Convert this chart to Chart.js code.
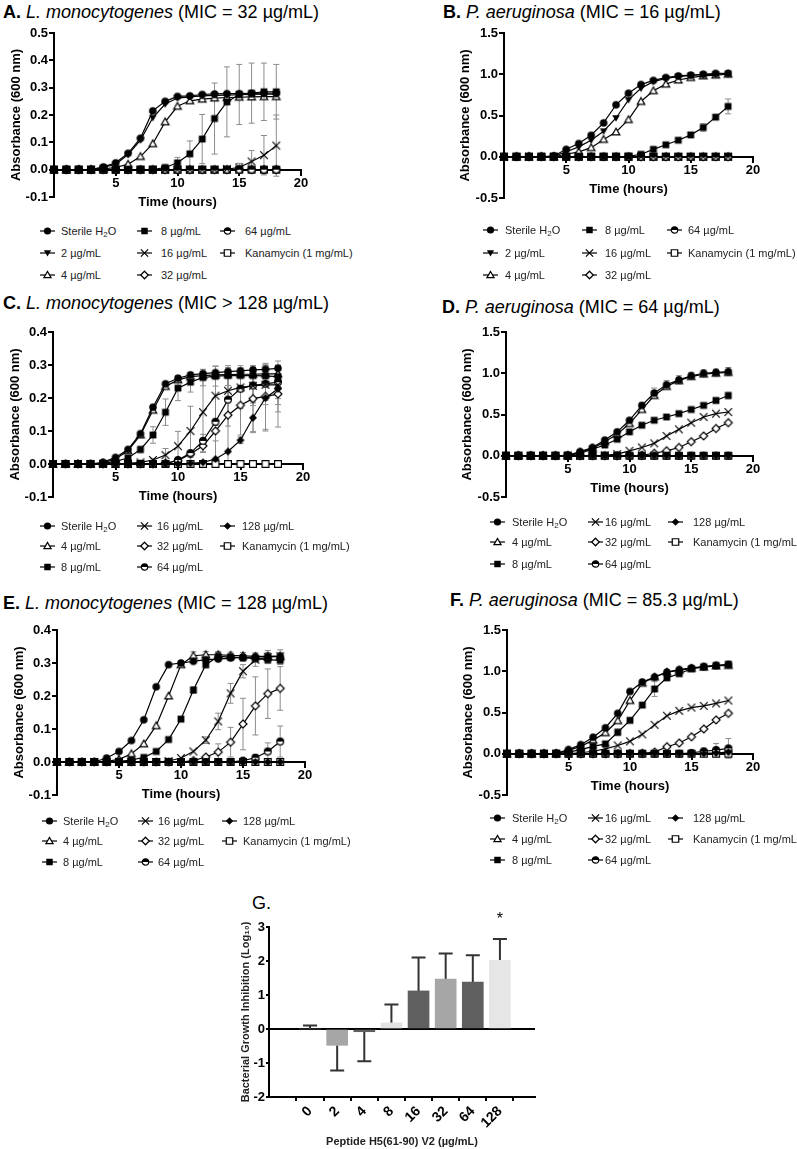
<!DOCTYPE html>
<html>
<head>
<meta charset="utf-8">
<script src="https://cdn.jsdelivr.net/npm/chart.js@4.4.0/dist/chart.umd.min.js"></script>
<style>
  body { margin: 0; background: #fff; }
  #page { position: relative; width: 797px; height: 1149px; overflow: hidden; font-family: 'Liberation Sans', Arial, sans-serif; color: #000; }
  .ttl { position: absolute; font-size: 18px; line-height: 20px; white-space: nowrap; }
  .lg-txt { position: absolute; font-size: 11px; line-height: 14px; white-space: nowrap; color: #222; }
  .lg-txt sub { font-size: 8px; line-height: 0; vertical-align: -2px; }
  canvas { position: absolute; }
</style>
</head>
<body>
<div id="page">
  <div class="ttl" style="left:3px;top:2px"><b>A.</b> <i>L. monocytogenes</i> (MIC = 32 µg/mL)</div>
  <div class="ttl" style="left:443px;top:2px"><b>B.</b> <i>P. aeruginosa</i> (MIC = 16 µg/mL)</div>
  <div class="ttl" style="left:3px;top:293px"><b>C.</b> <i>L. monocytogenes</i> (MIC &gt; 128 µg/mL)</div>
  <div class="ttl" style="left:442px;top:297px"><b>D.</b> <i>P. aeruginosa</i> (MIC = 64 µg/mL)</div>
  <div class="ttl" style="left:3px;top:593px"><b>E.</b> <i>L. monocytogenes</i> (MIC = 128 µg/mL)</div>
  <div class="ttl" style="left:450px;top:590px"><b>F.</b> <i>P. aeruginosa</i> (MIC = 85.3 µg/mL)</div>
  <div class="ttl" style="left:252px;top:893px">G.</div>
</div>
<script>
Chart.defaults.font.family = "'Liberation Sans', Arial, sans-serif";
Chart.defaults.color = '#000';

// ============================
// Data (time points in hours, absorbance at 600 nm)
// ============================
const hours = [0,1,2,3,4,5,6,7,8,9,10,11,12,13,14,15,16,17,18];

const labelsAB = ['Sterile H2O','2 µg/mL','4 µg/mL','8 µg/mL','16 µg/mL','32 µg/mL','64 µg/mL','Kanamycin (1 mg/mL)'];
const markersAB = ['circle','triDown','triOpen','square','cross','diamondOpen','half','squareOpen'];
const labelsCF = ['Sterile H2O','4 µg/mL','8 µg/mL','16 µg/mL','32 µg/mL','64 µg/mL','128 µg/mL','Kanamycin (1 mg/mL)'];
const markersCF = ['circle','triOpen','square','cross','diamondOpen','half','diamond','squareOpen'];

// A. L. monocytogenes (MIC = 32)
const A_h2o = [0,0,0,0,0.01,0.025,0.06,0.115,0.215,0.25,0.268,0.27,0.275,0.277,0.278,0.278,0.279,0.28,0.28];
const A_2   = [0,0,0,0,0.008,0.02,0.055,0.108,0.19,0.24,0.262,0.266,0.27,0.272,0.273,0.274,0.275,0.276,0.276];
const A_4   = [0,0,0,0,0.003,0.008,0.02,0.048,0.095,0.175,0.232,0.252,0.258,0.262,0.264,0.265,0.266,0.267,0.267];
const A_8   = [0,0,0,0,0,0,0,0,0,0.008,0.025,0.058,0.112,0.187,0.248,0.275,0.28,0.285,0.285];
const A_8err = [0,0,0,0,0,0,0,0,0,0.005,0.02,0.047,0.09,0.13,0.128,0.11,0.11,0.105,0.1];
const A_16  = [0,0,0,0,0,0,0,0,0,0,0,0,0,0,0.002,0.008,0.03,0.053,0.088];
const A_16err = [0,0,0,0,0,0,0,0,0,0,0,0,0,0,0,0.015,0.04,0.072,0.112];
const A_32  = [0,0,0,0,0,0,0,0,0,0,0,0,0,0,0,0,0,0,0];
const A_64  = [0,0,0,0,0,0,0,0,0,0,0,0,0,0,0,0,0,0,0];
const A_kan = [0,0,0,0,0,0,0,0,0,0,0,0,0,0,0,0,0,0,0];

// B. P. aeruginosa (MIC = 16)
const B_h2o = [0,0,0,0,0.01,0.09,0.16,0.26,0.41,0.63,0.77,0.875,0.925,0.96,0.98,0.99,1.0,1.01,1.01];
const B_2   = [0,0,0,0,0.005,0.06,0.12,0.2,0.31,0.47,0.69,0.83,0.91,0.95,0.97,0.985,0.995,1.0,1.01];
const B_4   = [0,0,0,0,0,0.03,0.06,0.11,0.21,0.3,0.45,0.67,0.8,0.88,0.93,0.96,0.98,0.99,1.0];
const B_8   = [0,0,0,0,0,0,0,0,0,0,0.005,0.03,0.09,0.145,0.2,0.265,0.355,0.48,0.61];
const B_8err = [0,0,0,0,0,0,0,0,0,0,0,0,0,0,0,0.03,0.045,0.02,0.09];
const B_16  = [0,0,0,0,0,0,0,0,0,0,0,0,0,0,0,0,0,0,0];
const B_32  = [0,0,0,0,0,0,0,0,0,0,0,0,0,0,0,0,0,0,0];
const B_64  = [0,0,0,0,0,0,0,0,0,0,0,0,0,0,0,0,0,0,0];
const B_kan = [0,0,0,0,0,0,0,0,0,0,0,0,0,0,0,0,0,0,0];

// C. L. monocytogenes (MIC > 128)
const C_h2o = [0,0,0,0,0.005,0.02,0.044,0.092,0.172,0.243,0.26,0.27,0.274,0.277,0.28,0.282,0.285,0.287,0.29];
const C_4   = [0,0,0,0,0.003,0.015,0.04,0.088,0.163,0.235,0.255,0.265,0.268,0.27,0.271,0.272,0.272,0.273,0.273];
const C_8   = [0,0,0,0,0.002,0.008,0.018,0.044,0.088,0.157,0.23,0.248,0.262,0.266,0.268,0.268,0.268,0.267,0.265];
const C_8err = [0,0,0,0,0,0,0.005,0.01,0.025,0.04,0.038,0.03,0.025,0.03,0.03,0.03,0.03,0.03,0.03];
const C_16  = [0,0,0,0,0,0,0.002,0.005,0.012,0.027,0.054,0.1,0.157,0.207,0.222,0.232,0.237,0.24,0.24];
const C_16err = [0,0,0,0,0,0,0,0,0.005,0.02,0.045,0.075,0.12,0.09,0.07,0.06,0.06,0.06,0.06];
const C_32  = [0,0,0,0,0,0,0,0,0,0.003,0.01,0.03,0.055,0.1,0.148,0.178,0.198,0.205,0.212];
const C_32err = [0,0,0,0,0,0,0,0,0,0,0,0.01,0.02,0.03,0.14,0.09,0.1,0.1,0.1];
const C_64  = [0,0,0,0,0,0,0,0,0,0,0.012,0.033,0.07,0.128,0.195,0.228,0.238,0.243,0.248];
const C_64err = [0,0,0,0,0,0,0,0,0,0,0,0,0.02,0.13,0.08,0.06,0.05,0.05,0.05];
const C_128 = [0,0,0,0,0,0,0,0,0,0,0,0.002,0.005,0.015,0.038,0.072,0.14,0.2,0.228];
const C_128err = [0,0,0,0,0,0,0,0,0,0,0,0,0,0,0,0.01,0.045,0.1,0.07];
const C_kan = [0,0,0,0,0,0,0,0,0,0,0,0,0,0,0,0,0,0,0];

// D. P. aeruginosa (MIC = 64)
const D_h2o = [0,0,0,0,0,0.005,0.05,0.1,0.19,0.29,0.43,0.61,0.76,0.86,0.92,0.97,1.0,1.01,1.02];
const D_h2oErr = [0,0,0,0,0,0,0,0,0,0,0.02,0.03,0.06,0.05,0.05,0.04,0.04,0.04,0.05];
const D_4   = [0,0,0,0,0,0.003,0.04,0.09,0.17,0.26,0.39,0.56,0.73,0.84,0.91,0.96,0.99,1.0,1.01];
const D_8   = [0,0,0,0,0,0.002,0.03,0.08,0.13,0.2,0.29,0.37,0.43,0.47,0.51,0.56,0.61,0.67,0.73];
const D_8err = [0,0,0,0,0,0,0,0,0,0,0,0,0,0,0,0,0.02,0.03,0.04];
const D_16  = [0,0,0,0,0,0,0,0,0.005,0.02,0.06,0.1,0.15,0.24,0.32,0.4,0.47,0.51,0.53];
const D_32  = [0,0,0,0,0,0,0,0,0,0,0,0.005,0.03,0.06,0.1,0.17,0.24,0.33,0.4];
const D_64  = [0,0,0,0,0,0,0,0,0,0,0,0,0,0,0,0,0,0,0];
const D_128 = [0,0,0,0,0,0,0,0,0,0,0,0,0,0,0,0,0,0,0];
const D_kan = [0,0,0,0,0,0,0,0,0,0,0,0,0,0,0,0,0,0,0];

// E. L. monocytogenes (MIC = 128)
const E_h2o = [0,0,0,0,0.012,0.032,0.065,0.128,0.228,0.295,0.3,0.305,0.31,0.312,0.315,0.317,0.318,0.32,0.32];
const E_4   = [0,0,0,0,0.002,0.008,0.025,0.055,0.11,0.2,0.295,0.322,0.325,0.325,0.323,0.322,0.32,0.32,0.32];
const E_4err = [0,0,0,0,0,0,0,0,0,0,0.005,0.012,0.01,0.01,0.01,0.01,0.01,0.012,0.012];
const E_8   = [0,0,0,0,0,0.002,0.006,0.014,0.032,0.068,0.13,0.218,0.295,0.32,0.318,0.316,0.313,0.31,0.308];
const E_8err = [0,0,0,0,0,0,0,0,0,0,0.008,0.01,0.01,0.012,0.01,0.01,0.01,0.01,0.012];
const E_16  = [0,0,0,0,0,0,0,0,0,0.003,0.012,0.032,0.066,0.123,0.208,0.275,0.31,0.318,0.32];
const E_16err = [0,0,0,0,0,0,0,0,0,0,0,0,0.01,0.025,0.03,0.02,0.02,0.02,0.02];
const E_32  = [0,0,0,0,0,0,0,0,0,0,0,0.004,0.015,0.03,0.06,0.115,0.17,0.207,0.223];
const E_32err = [0,0,0,0,0,0,0,0,0,0,0,0,0.005,0.025,0.045,0.078,0.088,0.075,0.066];
const E_64  = [0,0,0,0,0,0,0,0,0,0,0,0,0,0,0,0.004,0.013,0.032,0.062];
const E_64err = [0,0,0,0,0,0,0,0,0,0,0,0,0,0,0,0,0.01,0.026,0.047];
const E_128 = [0,0,0,0,0,0,0,0,0,0,0,0,0,0,0,0,0,0,0];
const E_kan = [0,0,0,0,0,0,0,0,0,0,0,0,0,0,0,0,0,0,0];

// F. P. aeruginosa (MIC = 85.3)
const F_h2o = [0,0,0,0,0.005,0.05,0.11,0.2,0.315,0.49,0.755,0.87,0.93,0.99,1.02,1.04,1.055,1.07,1.08];
const F_4   = [0,0,0,0,0.003,0.04,0.09,0.165,0.255,0.4,0.645,0.855,0.93,0.99,1.01,1.035,1.05,1.065,1.07];
const F_8   = [0,0,0,0,0,0.02,0.05,0.09,0.12,0.26,0.405,0.59,0.785,0.92,0.97,1.03,1.055,1.07,1.085];
const F_8err = [0,0,0,0,0,0,0,0,0,0.04,0.03,0.03,0.09,0.03,0.02,0.02,0.02,0.02,0.03];
const F_16  = [0,0,0,0,0,0.003,0.012,0.03,0.06,0.1,0.15,0.235,0.35,0.46,0.52,0.56,0.58,0.61,0.645];
const F_32  = [0,0,0,0,0,0,0,0,0,0,0,0.005,0.02,0.085,0.13,0.205,0.3,0.41,0.49];
const F_64  = [0,0,0,0,0,0,0,0,0,0,0,0,0,0,0,0.01,0.03,0.045,0.065];
const F_64err = [0,0,0,0,0,0,0,0,0,0,0,0,0,0,0,0,0.02,0.08,0.12];
const F_128 = [0,0,0,0,0,0,0,0,0,0,0,0,0,0,0,0,0.005,0.01,0.02];
const F_kan = [0,0,0,0,0,0,0,0,0,0,0,0,0,0,0,0,0,0,0];

// G. growth inhibition (log10) per peptide dose
const gDoses = ['0','2','4','8','16','32','64','128'];
const gInhibition = [0, -0.48, -0.08, 0.18, 1.12, 1.47, 1.38, 2.02];
const gError = [0.1, 0.74, 0.87, 0.54, 0.98, 0.75, 0.79, 0.63];
const gSignif = ['', '', '', '', '', '', '', '*'];
const gColors = ['#5f5f5f','#a6a6a6','#5f5f5f','#e2e2e2','#5f5f5f','#a6a6a6','#5f5f5f','#e6e6e6'];

// ============================
// Markers
// ============================
function drawMarker(ctx, kind, cx, cy, r) {
    ctx.save();
    ctx.lineWidth = 1.2;
    ctx.strokeStyle = '#000';
    ctx.fillStyle = '#000';
    ctx.beginPath();
    if (kind === 'circle') {
        ctx.arc(cx, cy, r, 0, Math.PI * 2);
        ctx.fill();
    } else if (kind === 'half') {
        ctx.arc(cx, cy, r - 0.4, 0, Math.PI * 2);
        ctx.fillStyle = '#fff';
        ctx.fill();
        ctx.stroke();
        ctx.beginPath();
        ctx.arc(cx, cy, r - 0.4, Math.PI, 0);
        ctx.closePath();
        ctx.fillStyle = '#000';
        ctx.fill();
    } else if (kind === 'triDown') {
        ctx.moveTo(cx - r, cy - r * 0.75);
        ctx.lineTo(cx + r, cy - r * 0.75);
        ctx.lineTo(cx, cy + r);
        ctx.closePath();
        ctx.fill();
    } else if (kind === 'triOpen') {
        ctx.moveTo(cx - r, cy + r * 0.75);
        ctx.lineTo(cx + r, cy + r * 0.75);
        ctx.lineTo(cx, cy - r);
        ctx.closePath();
        ctx.fillStyle = '#fff';
        ctx.fill();
        ctx.stroke();
    } else if (kind === 'square' || kind === 'squareOpen') {
        const s = r * 0.9;
        ctx.rect(cx - s, cy - s, 2 * s, 2 * s);
        if (kind === 'square') { ctx.fill(); } else { ctx.fillStyle = '#fff'; ctx.fill(); ctx.stroke(); }
    } else if (kind === 'diamond' || kind === 'diamondOpen') {
        const s = r * 1.05;
        ctx.moveTo(cx, cy - s);
        ctx.lineTo(cx + s, cy);
        ctx.lineTo(cx, cy + s);
        ctx.lineTo(cx - s, cy);
        ctx.closePath();
        if (kind === 'diamond') { ctx.fill(); } else { ctx.fillStyle = '#fff'; ctx.fill(); ctx.stroke(); }
    } else if (kind === 'cross') {
        ctx.moveTo(cx - r, cy - r); ctx.lineTo(cx + r, cy + r);
        ctx.moveTo(cx + r, cy - r); ctx.lineTo(cx - r, cy + r);
        ctx.stroke();
    }
    ctx.restore();
}

// filled symbols end up on top where curves overlap (as on the zero line)
const markerDepth = { squareOpen: 0, diamondOpen: 1, triOpen: 2, half: 3, cross: 4, diamond: 5, triDown: 6, circle: 7, square: 8 };

const markerCache = {};
function markerImage(kind) {
    if (!markerCache[kind]) {
        const c = document.createElement('canvas');
        c.width = 12; c.height = 12;
        drawMarker(c.getContext('2d'), kind, 6, 6, 3.8);
        markerCache[kind] = c;
    }
    return markerCache[kind];
}

// ============================
// Error bar plugin (uses the chart's own scales)
// ============================
const errorBars = {
    id: 'errorBars',
    beforeDatasetsDraw(chart) {
        const ctx = chart.ctx;
        const yScale = chart.scales.y;
        ctx.save();
        chart.data.datasets.forEach((ds, i) => {
            if (!ds.errors) return;
            const meta = chart.getDatasetMeta(i);
            ctx.strokeStyle = ds.errorColor || '#8c8c8c';
            ctx.lineWidth = ds.errorWidth || 1;
            const cap = ds.errorCap || 3;
            meta.data.forEach((el, j) => {
                const e = ds.errors[j];
                if (!e) return;
                const v = ds.data[j].y;
                const x = el.x;
                let yA, yB;
                if (ds.oneSided) {
                    yA = yScale.getPixelForValue(v);
                    yB = yScale.getPixelForValue(v < 0 ? v - e : v + e);
                } else {
                    yA = yScale.getPixelForValue(v - e);
                    yB = yScale.getPixelForValue(v + e);
                }
                ctx.beginPath();
                ctx.moveTo(x, yA); ctx.lineTo(x, yB);
                ctx.moveTo(x - cap, yB); ctx.lineTo(x + cap, yB);
                if (!ds.oneSided) { ctx.moveTo(x - cap, yA); ctx.lineTo(x + cap, yA); }
                ctx.stroke();
            });
        });
        ctx.restore();
    }
};

// ============================
// Panels
// ============================
const panels = [
    { L: 54, R: 301, T: 33, B: 197, yMin: -0.1, yMax: 0.5, yStep: 0.1, titlePad: 9,
      labels: labelsAB, markers: markersAB,
      values: [A_h2o, A_2, A_4, A_8, A_16, A_32, A_64, A_kan],
      errors: [null, null, null, A_8err, A_16err, null, null, null],
      legendCols: [[40, 61], [137, 161], [220, 245]], legendRows: [231, 253, 275] },
    { L: 504, R: 753, T: 33, B: 198, yMin: -0.5, yMax: 1.5, yStep: 0.5, titlePad: 8,
      labels: labelsAB, markers: markersAB,
      values: [B_h2o, B_2, B_4, B_8, B_16, B_32, B_64, B_kan],
      errors: [null, null, null, B_8err, null, null, null, null],
      legendCols: [[483, 505], [582, 605], [667, 688]], legendRows: [230, 253, 275] },
    { L: 53, R: 303, T: 332, B: 497, yMin: -0.1, yMax: 0.4, yStep: 0.1, titlePad: 9,
      labels: labelsCF, markers: markersCF,
      values: [C_h2o, C_4, C_8, C_16, C_32, C_64, C_128, C_kan],
      errors: [null, null, C_8err, C_16err, C_32err, C_64err, C_128err, null],
      legendCols: [[40, 61], [137, 157], [220, 242]], legendRows: [526, 546, 567] },
    { L: 506, R: 753, T: 332, B: 497, yMin: -0.5, yMax: 1.5, yStep: 0.5, titlePad: 8,
      labels: labelsCF, markers: markersCF,
      values: [D_h2o, D_4, D_8, D_16, D_32, D_64, D_128, D_kan],
      errors: [D_h2oErr, null, D_8err, null, null, null, null, null],
      legendCols: [[490, 512], [588, 605], [668, 693]], legendRows: [522, 542, 564] },
    { L: 57, R: 305, T: 630, B: 795, yMin: -0.1, yMax: 0.4, yStep: 0.1, titlePad: 9,
      labels: labelsCF, markers: markersCF,
      values: [E_h2o, E_4, E_8, E_16, E_32, E_64, E_128, E_kan],
      errors: [null, E_4err, E_8err, E_16err, E_32err, E_64err, null, null],
      legendCols: [[42, 63], [138, 158], [222, 243]], legendRows: [821, 841, 862] },
    { L: 507, R: 753, T: 630, B: 795, yMin: -0.5, yMax: 1.5, yStep: 0.5, titlePad: 8,
      labels: labelsCF, markers: markersCF,
      values: [F_h2o, F_4, F_8, F_16, F_32, F_64, F_128, F_kan],
      errors: [null, null, F_8err, null, null, F_64err, null, null],
      legendCols: [[490, 512], [588, 605], [668, 693]], legendRows: [818, 839, 860] }
];

const page = document.getElementById('page');
const tickFont = { size: 13, weight: 'bold' };

function labelHtml(txt) {
    return txt.replace('H2O', 'H<sub>2</sub>O');
}

function buildLegend(p) {
    p.labels.forEach((lab, i) => {
        const col = p.legendCols[Math.floor(i / 3)];
        const rowY = p.legendRows[i % 3];
        const icon = document.createElement('canvas');
        icon.width = 15; icon.height = 12;
        icon.style.left = col[0] + 'px';
        icon.style.top = (rowY - 6) + 'px';
        const ictx = icon.getContext('2d');
        ictx.strokeStyle = '#000';
        ictx.lineWidth = 1.2;
        ictx.beginPath(); ictx.moveTo(0, 6); ictx.lineTo(15, 6); ictx.stroke();
        drawMarker(ictx, p.markers[i], 7.5, 6, 3.6);
        page.appendChild(icon);
        const t = document.createElement('div');
        t.className = 'lg-txt';
        t.style.left = col[1] + 'px';
        t.style.top = (rowY - 7) + 'px';
        t.innerHTML = labelHtml(lab);
        page.appendChild(t);
    });
}

function buildPanel(p) {
    const left = p.L - 54, top = p.T - 12;
    const w = p.R + 24 - left, h = p.B + 26 - top;
    const cv = document.createElement('canvas');
    cv.width = w; cv.height = h;
    cv.style.left = left + 'px'; cv.style.top = top + 'px';
    page.appendChild(cv);

    const datasets = p.values.map((vals, i) => ({
        label: p.labels[i],
        data: hours.map((hr, j) => ({ x: hr, y: vals[j] })),
        borderColor: '#000',
        borderWidth: 1.2,
        pointStyle: markerImage(p.markers[i]),
        pointRadius: 4,
        tension: 0,
        clip: false,
        order: -markerDepth[p.markers[i]],
        errors: p.errors[i]
    }));

    new Chart(cv, {
        type: 'line',
        data: { datasets },
        options: {
            responsive: false,
            animation: false,
            devicePixelRatio: 1,
            events: [],
            layout: { padding: { left: 0, top: 12, right: 24, bottom: 26 } },
            plugins: { legend: { display: false }, tooltip: { enabled: false } },
            scales: {
                x: {
                    type: 'linear', min: 0, max: 20,
                    position: { y: 0 },
                    ticks: { stepSize: 5, font: tickFont, color: '#000', padding: 1, maxRotation: 0,
                             callback: v => (v === 0 ? '' : v) },
                    grid: { drawOnChartArea: false, drawTicks: true, tickLength: 5, color: '#000', lineWidth: 2 },
                    border: { display: true, color: '#000', width: 2 },
                    title: { display: true, text: 'Time (hours)', font: { size: 13, weight: 'bold' }, color: '#000', padding: { top: 2, bottom: 0 } }
                },
                y: {
                    min: p.yMin, max: p.yMax,
                    ticks: { stepSize: p.yStep, font: tickFont, color: '#000', padding: 1,
                             callback: v => (Math.abs(v) < 1e-9 ? '0.0' : v.toFixed(1)) },
                    grid: { drawOnChartArea: false, drawTicks: true, tickLength: 5, color: '#000', lineWidth: 2 },
                    border: { display: true, color: '#000', width: 2 },
                    title: { display: true, text: 'Absorbance (600 nm)', font: { size: 13, weight: 'bold' }, color: '#000', padding: { top: p.titlePad, bottom: 0 } },
                    afterFit: s => { s.width = 54; }
                }
            }
        },
        plugins: [errorBars]
    });

    buildLegend(p);
}

panels.forEach(buildPanel);

// ============================
// Panel G: bar chart
// ============================
const significance = {
    id: 'significance',
    afterDatasetsDraw(chart) {
        const ctx = chart.ctx;
        const meta = chart.getDatasetMeta(0);
        ctx.save();
        ctx.font = "16px 'Liberation Sans', Arial, sans-serif";
        ctx.fillStyle = '#000';
        ctx.textAlign = 'center';
        ctx.textBaseline = 'alphabetic';
        gSignif.forEach((s, i) => {
            if (!s) return;
            const top = gInhibition[i] + gError[i];
            ctx.fillText(s, meta.data[i].x, chart.scales.y.getPixelForValue(top) - 15);
        });
        ctx.restore();
    }
};

(function buildBar() {
    const cv = document.createElement('canvas');
    cv.width = 318; cv.height = 249;
    cv.style.left = '229px'; cv.style.top = '900px';
    page.appendChild(cv);

    new Chart(cv, {
        type: 'bar',
        data: {
            datasets: [{
                data: gDoses.map((d, i) => ({ x: i, y: gInhibition[i] })),
                backgroundColor: gColors,
                borderWidth: 0,
                barThickness: 21,
                errors: gError,
                oneSided: true,
                errorColor: '#333',
                errorWidth: 2,
                errorCap: 7
            }]
        },
        options: {
            responsive: false,
            animation: false,
            devicePixelRatio: 1,
            events: [],
            layout: { padding: { left: 0, top: 27, right: 12, bottom: 0 } },
            plugins: { legend: { display: false }, tooltip: { enabled: false } },
            scales: {
                x: {
                    type: 'linear', min: -0.9, max: 7.68,
                    afterBuildTicks: s => { s.ticks = gDoses.map((d, i) => ({ value: i })); },
                    afterFit: s => { s.height = 52; },
                    ticks: { font: { size: 14, weight: 'bold' }, color: '#000', padding: 2, minRotation: 45, maxRotation: 45,
                             callback: v => gDoses[v] },
                    grid: { drawOnChartArea: false, drawTicks: true, tickLength: 4, color: '#000', lineWidth: 2 },
                    border: { display: true, color: '#000', width: 2 },
                    title: { display: true, text: 'Peptide H5(61-90) V2 (µg/mL)', font: { size: 11, weight: 'bold' }, color: '#222', padding: { top: 0, bottom: 0 } }
                },
                y: {
                    min: -2, max: 3,
                    ticks: { stepSize: 1, font: { size: 13, weight: 'bold' }, color: '#000', padding: 1 },
                    grid: { drawOnChartArea: true, drawTicks: true, tickLength: 3, lineWidth: 2,
                            color: c => (c.tick && c.tick.value === 0 ? '#000' : 'rgba(0,0,0,0)'),
                            tickColor: '#000' },
                    border: { display: true, color: '#000', width: 2 },
                    title: { display: true, text: 'Bacterial Growth Inhibition (Log₁₀)', font: { size: 11, weight: 'bold' }, color: '#222', padding: { top: 10, bottom: 0 } },
                    afterFit: s => { s.width = 40; }
                }
            }
        },
        plugins: [errorBars, significance]
    });
})();
</script>
</body>
</html>
